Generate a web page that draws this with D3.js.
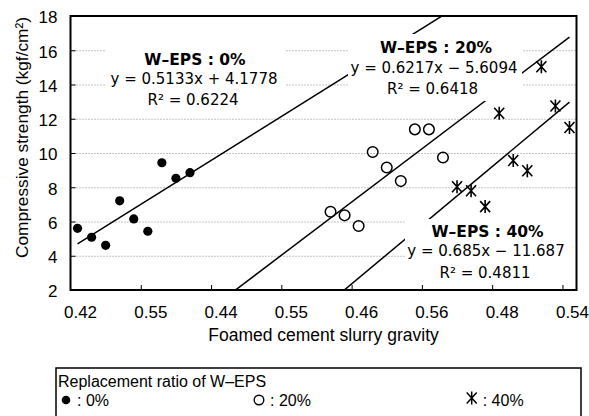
<!DOCTYPE html>
<html><head><meta charset="utf-8">
<script src="https://cdn.jsdelivr.net/npm/d3@7"></script>
<style>html,body{margin:0;padding:0;background:#fff;} svg{display:block;}</style>
</head><body>
<svg id="chart" width="589" height="416"></svg>
<script>
// ---------- data ----------
const categoryLabels = ["0.42","0.55","0.44","0.55","0.46","0.56","0.48","0.54"];
const labelCategories = [1, 6, 11, 16, 21, 26, 31, 36];
const boundaryTicks = [5.5, 10.5, 15.5, 20.5, 25.5, 30.5, 35.5];
const yTicks = [2, 4, 6, 8, 10, 12, 14, 16, 18];
const gridTicks = [4, 6, 8, 10, 12, 14, 16];

const cat0  = [1, 2, 3, 4, 5, 6, 7, 8, 9];
const val0  = [5.60, 5.08, 4.61, 7.21, 6.15, 5.43, 9.43, 8.52, 8.85];
const cat20 = [19, 20, 21, 22, 23, 24, 25, 26, 27];
const val20 = [6.57, 6.36, 5.74, 10.06, 9.15, 8.36, 11.38, 11.38, 9.74];
const cat40 = [28, 29, 30, 31, 32, 33, 34, 35, 36];
const val40 = [8.03, 7.80, 6.87, 12.32, 9.56, 8.96, 15.04, 12.74, 11.49];

const seriesNames = ["0%", "20%", "40%"];
const trendSlopes = [0.5133, 0.6217, 0.685];
const trendIntercepts = [4.1778, -5.6094, -11.687];
const trendEquations = ["y = 0.5133x + 4.1778", "y = 0.6217x \u2212 5.6094", "y = 0.685x \u2212 11.687"];
const trendR2 = ["0.6224", "0.6418", "0.4811"];
const trendRange = [1, 36];

// ---------- layout ----------
const svg = d3.select("#chart");
const x = d3.scaleLinear().domain([0.5, 36.5]).range([70.5, 576.5]);
const y = d3.scaleLinear().domain([2, 18]).range([290, 16]);
const AX = "'Liberation Sans', Arial, Helvetica, sans-serif";
const AN = "'DejaVu Sans', Verdana, sans-serif";

// clip
svg.append("defs").append("clipPath").attr("id", "plotclip")
  .append("rect").attr("x", x(0.5)).attr("y", y(18)).attr("width", x(36.5) - x(0.5)).attr("height", y(2) - y(18));

// gridlines
const grid = svg.append("g").attr("transform", `translate(${x(0.5)},0)`)
  .call(d3.axisLeft(y).tickValues(gridTicks).tickSize(-(x(36.5) - x(0.5))).tickFormat(""));
grid.select(".domain").remove();
grid.selectAll("line").attr("stroke", "#8a8a8a").attr("stroke-width", 1).attr("stroke-dasharray", "1,2");

// trendlines
const plot = svg.append("g").attr("clip-path", "url(#plotclip)");
const lineGen = d3.line().x(d => x(d[0])).y(d => y(d[1]));
trendSlopes.forEach((s, i) => {
  const pts = trendRange.map(k => [k, s * k + trendIntercepts[i]]);
  plot.append("path").attr("d", lineGen(pts)).attr("fill", "none").attr("stroke", "#000").attr("stroke-width", 1.5);
});

// annotation boxes + text
const annLayout = [
  {box: [105, 48, 285, 110], cx: [195, 194, 193], by: [65, 83.5, 105]},
  {box: [348, 34, 522, 101], cx: [436, 434, 432.5], by: [52.5, 72.5, 94]},
  {box: [405, 219, 576, 287], cx: [487.5, 486, 485], by: [237, 256, 278]}
];
annLayout.forEach((a, i) => {
  const g = svg.append("g");
  g.append("rect").attr("x", a.box[0]).attr("y", a.box[1]).attr("width", a.box[2] - a.box[0]).attr("height", a.box[3] - a.box[1]).attr("fill", "#fff");
  g.append("text").attr("x", a.cx[0]).attr("y", a.by[0]).attr("text-anchor", "middle")
    .attr("font-family", AN).attr("font-weight", "bold").attr("font-size", 15.5)
    .text("W\u2013EPS : " + seriesNames[i]);
  g.append("text").attr("x", a.cx[1]).attr("y", a.by[1]).attr("text-anchor", "middle")
    .attr("font-family", AN).attr("font-size", 15).text(trendEquations[i]);
  g.append("text").attr("x", a.cx[2]).attr("y", a.by[2]).attr("text-anchor", "middle")
    .attr("font-family", AN).attr("font-size", 15).text("R\u00b2 = " + trendR2[i]);
});

// markers
const marks = svg.append("g");
marks.selectAll("circle.s0").data(cat0.map((k, i) => [k, val0[i]])).join("circle")
  .attr("cx", d => x(d[0])).attr("cy", d => y(d[1])).attr("r", 4.6).attr("fill", "#000");
marks.selectAll("circle.s20").data(cat20.map((k, i) => [k, val20[i]])).join("circle")
  .attr("cx", d => x(d[0])).attr("cy", d => y(d[1])).attr("r", 5.3).attr("fill", "none").attr("stroke", "#000").attr("stroke-width", 1.5);
const starPath = "M-5,-5.5L5,5.5M5,-5.5L-5,5.5M0,-6.5L0,6.5";
marks.selectAll("path.s40").data(cat40.map((k, i) => [k, val40[i]])).join("path")
  .attr("transform", d => `translate(${x(d[0])},${y(d[1])})`).attr("d", starPath)
  .attr("fill", "none").attr("stroke", "#000").attr("stroke-width", 1.6);

// axes
const yAxis = svg.append("g").attr("transform", `translate(${x(0.5)},0)`)
  .call(d3.axisLeft(y).tickValues(yTicks).tickSizeInner(-5).tickSizeOuter(0).tickPadding(13).tickFormat(d3.format("d")));
yAxis.select(".domain").remove();
yAxis.selectAll("text").attr("font-family", AX).attr("font-size", 17).attr("fill", "#000").attr("dy", "0.4em");
yAxis.selectAll("line").attr("stroke", "#000");

const xTickAxis = svg.append("g").attr("transform", `translate(0,${y(2)})`)
  .call(d3.axisBottom(x).tickValues(boundaryTicks).tickSizeInner(-5).tickSizeOuter(0).tickFormat(""));
xTickAxis.select(".domain").remove();
xTickAxis.selectAll("line").attr("stroke", "#000");

const xLabAxis = svg.append("g").attr("transform", `translate(2.5,${y(2)})`)
  .call(d3.axisBottom(x).tickValues(labelCategories).tickSize(0).tickPadding(16).tickFormat((d, i) => categoryLabels[i]));
xLabAxis.select(".domain").remove();
xLabAxis.selectAll("text").attr("font-family", AX).attr("font-size", 17).attr("fill", "#000");

// plot frame
svg.append("rect").attr("x", x(0.5)).attr("y", y(18)).attr("width", x(36.5) - x(0.5)).attr("height", y(2) - y(18))
  .attr("fill", "none").attr("stroke", "#000").attr("stroke-width", 2);

// axis titles
svg.append("text").attr("x", (x(0.5) + x(36.5)) / 2).attr("y", 341).attr("text-anchor", "middle")
  .attr("font-family", AX).attr("font-size", 17.5).text("Foamed cement slurry gravity");
svg.append("text").attr("transform", "translate(28,137.5) rotate(-90)").attr("text-anchor", "middle")
  .attr("font-family", AX).attr("font-size", 17.3).text("Compressive strength (kgf/cm\u00b2)");

// legend
const lg = svg.append("g");
lg.append("rect").attr("x", 56).attr("y", 368).attr("width", 525).attr("height", 60)
  .attr("fill", "none").attr("stroke", "#000").attr("stroke-width", 1.5);
lg.append("text").attr("x", 58).attr("y", 387).attr("font-family", AX).attr("font-size", 16).text("Replacement ratio of W\u2013EPS");
const legX = [66, 259, 471.7];
const legY = 400;
lg.append("circle").attr("cx", legX[0]).attr("cy", legY).attr("r", 4.3).attr("fill", "#000");
lg.append("circle").attr("cx", legX[1]).attr("cy", legY).attr("r", 4.8).attr("fill", "none").attr("stroke", "#000").attr("stroke-width", 1.4);
lg.append("path").attr("transform", `translate(${legX[2]},${legY - 2})`).attr("d", starPath).attr("fill", "none").attr("stroke", "#000").attr("stroke-width", 1.5);
seriesNames.forEach((n, i) => {
  lg.append("text").attr("x", legX[i] + 11).attr("y", 405.5).attr("font-family", AX).attr("font-size", 16).text(": " + n);
});
</script>
</body></html>
